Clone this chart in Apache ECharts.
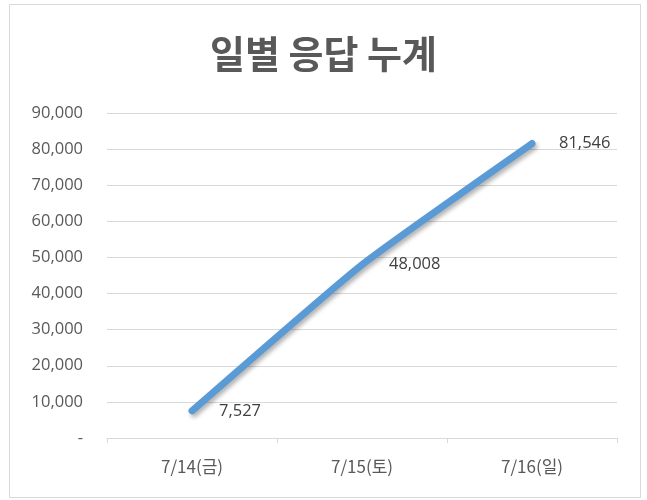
<!DOCTYPE html>
<html>
<head>
<meta charset="utf-8">
<script src="https://cdn.jsdelivr.net/npm/echarts@6/dist/echarts.min.js"></script>
<style>
html,body{margin:0;padding:0;background:#fff;}
#c{width:647px;height:500px;}
</style>
</head>
<body>
<div id="c"></div>
<script>
var titleText = "일별 응답 누계";
var categories = ["7/14(금)", "7/15(토)", "7/16(일)"];
var cumulative = [7527, 48008, 81546];
var yMin = 0, yMax = 90000, yStep = 10000;

var chart = echarts.init(document.getElementById('c'), null, {renderer: 'canvas'});
var fmt = function (v) { return v === 0 ? '-' : v.toLocaleString('en-US'); };
chart.setOption({
  backgroundColor: '#ffffff',
  animation: false,
  graphic: [{
    type: 'rect', silent: true,
    shape: {x: 9.5, y: 4.5, width: 631, height: 493},
    style: {fill: 'none', stroke: '#d9d9d9', lineWidth: 1}
  }],
  title: {
    text: titleText, left: 'center', top: 30,
    textStyle: {fontFamily: '"Noto Sans CJK KR"', fontSize: 38, fontWeight: 'bold', color: '#595959'}
  },
  grid: {left: 107, right: 30, top: 113, bottom: 62},
  xAxis: {
    type: 'category', data: categories, boundaryGap: true,
    axisLine: {lineStyle: {color: '#d9d9d9', width: 1}},
    axisTick: {show: true, length: 5, lineStyle: {color: '#d9d9d9'}},
    axisLabel: {margin: 20, fontFamily: '"Noto Sans CJK KR"', fontSize: 17, color: '#595959'}
  },
  yAxis: {
    type: 'value', min: yMin, max: yMax, interval: yStep,
    axisLine: {show: false}, axisTick: {show: false},
    splitLine: {lineStyle: {color: '#d9d9d9', width: 1}},
    axisLabel: {margin: 24, fontFamily: '"Open Sans"', fontSize: 16.5, color: '#595959', formatter: fmt}
  },
  series: [{
    type: 'line', data: cumulative, smooth: 0.15,
    symbol: 'circle', symbolSize: 6,
    itemStyle: {color: '#5b9bd5'},
    lineStyle: {color: '#5b9bd5', width: 7, cap: 'round',
      shadowColor: 'rgba(0,0,0,0.3)', shadowBlur: 4, shadowOffsetX: 2, shadowOffsetY: 3},
    label: {show: true, position: 'right', distance: 24, formatter: function (p) { return fmt(p.value); },
      fontFamily: '"Open Sans"', fontSize: 16.5, color: '#404040'}
  }]
});
</script>
</body>
</html>
